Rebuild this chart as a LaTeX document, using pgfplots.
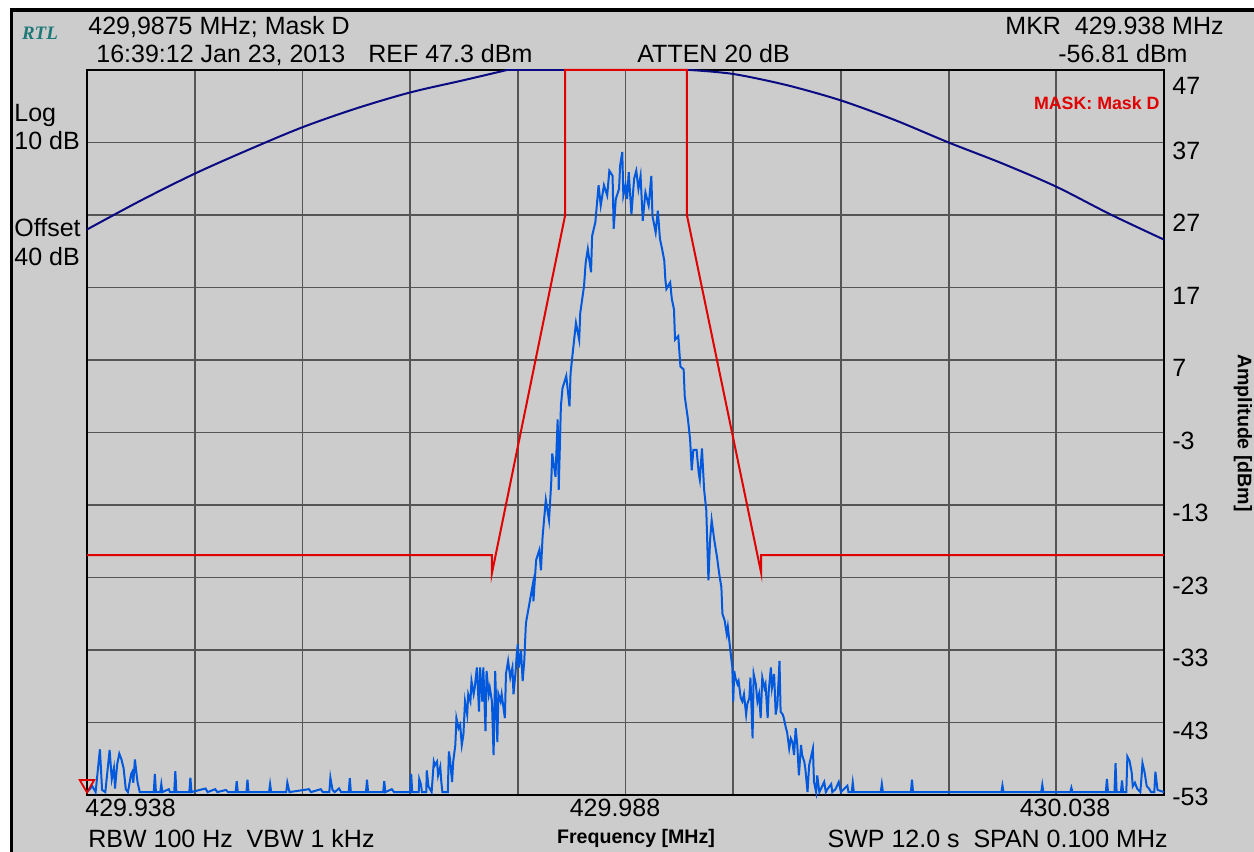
\documentclass[border=0pt]{standalone}
\usepackage{pgfplots}
\pgfplotsset{compat=1.18}
\usepackage{fontspec}
\setmainfont{Liberation Sans}
\newfontfamily\serifbi{Liberation Serif}
\definecolor{bg}{HTML}{CCCCCC}
\definecolor{gridc}{HTML}{555555}
\definecolor{trace}{HTML}{0058DC}
\definecolor{navy}{HTML}{0A0A82}
\definecolor{maskred}{HTML}{E00000}
\definecolor{rtl}{HTML}{1F7878}
\newcommand\fs{\fontsize{12.5}{14}\selectfont}
\newcommand\fb{\fontsize{9.8}{12}\selectfont\bfseries}
\begin{document}
\begin{tikzpicture}
\useasboundingbox (0pt,0pt) rectangle (627pt,426pt);
\fill[white] (0pt,0pt) rectangle (627pt,426pt);
\fill[bg] (6.5pt,0pt) rectangle (627pt,420pt);
\draw[black, line width=1.6pt] (5.8pt,0pt) -- (5.8pt,421pt) -- (627pt,421pt);
\begin{axis}[
  at={(43.5pt,28.5pt)}, anchor=south west,
  scale only axis, width=538.5pt, height=362.5pt,
  xmin=0, xmax=100, ymin=-52.7, ymax=47.3,
  xtick={0,10,...,100},
  ytick={-52.7,-42.7,-32.7,-22.7,-12.7,-2.7,7.3,17.3,27.3,37.3,47.3},
  yticklabels={,-43,-33,-23,-13,-3,7,17,27,37,},
  xticklabel=\empty,
  yticklabel pos=right,
  yticklabel style={anchor=west, inner sep=0pt, xshift=4pt, yshift=-4pt, font=\fs},
  tick style={draw=none}, major tick length=0pt,
  grid=major, major grid style={draw=gridc, line width=0.9pt},
  axis line style={black, line width=1pt},
  clip=false,
]
% navy curve (left part, flat top, right part)
\addplot[navy, line width=1pt, smooth, tension=0.5] coordinates {
(0,25.3)(5,29.3)(10,33.0)(15,36.3)(20,39.4)(25,42.0)(30,44.2)(35,45.9)(39,47.3)};
\addplot[navy, line width=1pt] coordinates {(39,47.3)(56,47.3)};
\addplot[navy, line width=1pt, smooth, tension=0.5] coordinates {
(56,47.3)(60,46.75)(65,45.2)(70,43.1)(75,40.4)(80,37.3)(85,34.4)(90,31.2)(95,27.4)(100,23.9)};
% blue trace
\addplot[trace, line width=1pt] coordinates {
(0,-52.3)(0.5,-51.5)(0.8,-52.3)(1.2,-46.4)(1.4,-52.0)(1.7,-52.3)(2.1,-46.5)(2.3,-50.5)(2.5,-49.0)(2.6,-51.8)
(2.8,-48.5)(3.0,-47.0)(3.2,-47.8)(3.4,-49.0)(3.6,-51.9)(3.8,-52.3)(4.1,-49.8)(4.2,-49.5)(4.3,-51.0)(4.45,-47.8)
(4.6,-49.8)(4.7,-51.0)(4.9,-52.3)(5.5,-52.3)(6.2,-52.3)(6.3,-49.8)(6.4,-52.3)(6.8,-52.3)(6.9,-51.2)(7.0,-52.3)
(7.6,-51.9)(7.7,-52.3)(8.1,-52.3)(8.2,-49.4)(8.3,-52.3)(9.5,-52.3)(9.6,-50.3)(9.7,-52.3)(11.0,-51.8)(11.2,-52.3)
(11.9,-51.9)(12.1,-52.3)(12.9,-52.0)(13.1,-52.3)(13.8,-52.3)(13.9,-50.8)(14.0,-52.3)(14.8,-52.3)(14.9,-50.6)(15.0,-52.3)
(16.9,-52.3)(17.0,-51.2)(17.1,-52.3)(18.5,-52.3)(18.6,-51.0)(18.8,-52.3)(20.6,-51.9)(20.8,-52.3)(21.7,-51.9)(21.9,-52.3)
(22.5,-52.3)(22.6,-50.3)(22.7,-51.2)(22.8,-52.0)(23.0,-52.3)(23.4,-51.8)(23.6,-52.3)(24.3,-52.3)(24.4,-50.4)(24.5,-52.3)
(25.9,-52.3)(26.0,-50.6)(26.1,-52.3)(27.5,-52.3)(27.6,-50.8)(27.7,-52.3)(28.3,-51.9)(28.5,-52.3)(29.5,-52.3)
(30.0,-52.3)(30.1,-49.8)(30.2,-52.3)(30.8,-52.3)(30.85,-50.5)(31.0,-51.2)(31.1,-52.3)(31.5,-52.3)(31.55,-49.3)(31.7,-51.5)
(32.0,-52.3)(32.2,-48.1)(32.3,-48.6)(32.5,-48.1)(32.6,-50.0)(32.8,-48.8)(32.9,-50.9)(33.0,-52.3)(33.5,-52.3)
(33.6,-46.7)(33.7,-47.7)(33.9,-50.9)(34.0,-48.1)(34.2,-45.8)(34.3,-42.1)(34.5,-43.5)(34.65,-43.0)(34.8,-45.8)(34.95,-44.4)
(35.1,-39.8)(35.3,-41.6)(35.4,-38.8)(35.6,-39.8)(35.7,-37.0)(35.9,-38.8)(36.0,-37.9)(36.2,-35.1)(36.4,-41.2)(36.5,-35.1)
(36.7,-39.8)(36.8,-35.1)(37.0,-43.9)(37.1,-35.6)(37.3,-38.8)(37.4,-37.9)(37.6,-39.8)(37.75,-47.2)(37.9,-35.6)(38.1,-45.4)
(38.2,-38.8)(38.4,-39.8)(38.5,-38.8)(38.8,-42.1)(38.9,-36.0)(39.1,-34.2)(39.3,-36.5)(39.5,-35.1)(39.6,-38.8)(39.8,-35.6)
(39.9,-33.3)(40.0,-31.9)(40.1,-35.1)(40.3,-32.8)(40.45,-37.0)(40.6,-34.2)(40.75,-29.1)(40.8,-28.6)(41.1,-26.1)(41.4,-23.6)
(41.45,-26.0)(41.7,-20.3)(42.0,-18.9)(42.15,-21.7)(42.3,-17.1)(42.6,-12.0)(42.9,-14.8)(43.1,-9.7)(43.2,-5.6)(43.5,-8.8)
(43.7,-0.9)(43.8,-10.6)(44.0,0.9)(44.15,3.4)(44.5,5.1)(44.8,0.9)(44.9,5.5)(45.1,8.3)(45.4,12.4)(45.7,10.1)
(45.8,13.8)(46.15,17.5)(46.3,20.7)(46.5,22.6)(46.8,19.4)(46.9,24.4)(47.2,26.3)(47.5,31.4)(47.7,28.6)(48.0,31.4)
(48.3,30.0)(48.5,33.4)(48.8,32.7)(48.9,25.4)(49.1,29.5)(49.4,30.9)(49.5,34.1)(49.7,36.0)(49.8,30.0)(50.0,31.4)
(50.15,29.5)(50.3,33.2)(50.55,27.4)(50.8,32.3)(51.0,33.4)(51.2,30.9)(51.4,32.7)(51.6,26.5)(51.85,30.4)(52.15,28.6)
(52.4,32.7)(52.5,27.2)(52.8,24.9)(53.0,27.9)(53.2,24.0)(53.4,22.6)(53.6,21.0)(53.7,18.4)(53.8,17.1)(54.15,18.0)
(54.3,15.7)(54.5,14.3)(54.6,10.1)(54.9,10.6)(55.1,6.4)(55.4,6.0)(55.5,2.3)(55.8,-0.9)(56.0,-3.7)(56.15,-7.9)
(56.3,-5.1)(56.6,-5.1)(56.8,-8.3)(56.9,-9.2)(57.1,-4.9)(57.3,-10.6)(57.5,-13.4)(57.7,-23.1)(57.85,-17.6)(58.0,-14.8)
(58.25,-17.6)(58.5,-19.9)(58.7,-22.2)(58.9,-24.0)(59.0,-27.7)(59.2,-28.6)(59.4,-30.5)(59.5,-29.5)(59.7,-32.3)(59.85,-34.2)
(59.92,-35.1)(60.0,-39.8)(60.1,-35.6)(60.2,-36.5)(60.4,-37.4)(60.5,-37.0)(60.7,-39.3)(60.85,-39.8)(61.0,-38.8)(61.2,-41.6)
(61.3,-40.2)(61.5,-39.3)(61.6,-36.5)(61.8,-44.9)(61.9,-36.0)(62.1,-37.4)(62.25,-39.8)(62.4,-38.8)(62.55,-42.1)(62.7,-36.5)
(62.9,-37.9)(63.0,-37.4)(63.2,-42.1)(63.3,-38.4)(63.5,-35.1)(63.6,-37.9)(63.8,-36.0)(63.95,-41.6)(64.1,-40.2)(64.3,-34.2)
(64.4,-41.2)(64.6,-41.6)(64.7,-42.1)(64.9,-43.5)(65.0,-44.0)(65.2,-46.3)(65.35,-44.9)(65.5,-45.4)(65.65,-47.2)(65.8,-43.5)
(65.95,-45.8)(66.1,-50.0)(66.3,-45.8)(66.4,-47.2)(66.6,-48.1)(66.7,-49.1)(66.9,-52.3)(67.05,-48.6)(67.4,-46.3)(67.5,-50.9)
(67.7,-52.3)(67.8,-50.0)(68.0,-52.3)(68.45,-50.9)(68.6,-52.3)(68.75,-51.9)(69.1,-51.2)(69.2,-52.3)(69.5,-51.9)(69.8,-50.9)
(70.0,-52.3)(70.6,-51.4)(70.7,-52.3)(71.0,-52.3)(71.1,-51.0)(71.2,-52.3)(73.7,-52.3)(73.8,-51.2)(73.9,-52.3)(76.5,-52.3)
(76.6,-50.6)(76.7,-52.3)(80.0,-52.3)(84.9,-52.3)(85.0,-51.4)(85.1,-52.3)(88.6,-52.3)(88.7,-51.3)(88.8,-52.3)(91.3,-52.3)
(91.4,-51.7)(91.5,-52.3)(94.6,-52.3)(94.7,-50.5)(94.8,-52.3)(95.4,-52.3)(95.5,-48.3)(95.6,-52.3)(96.0,-52.3)(96.1,-50.7)
(96.2,-52.3)(96.5,-52.3)(96.6,-47.4)(96.8,-48.0)(97.0,-49.6)(97.1,-51.5)(97.3,-51.0)(97.5,-51.8)(97.8,-52.3)(97.9,-50.5)
(98.0,-48.3)(98.2,-49.6)(98.4,-51.5)(98.6,-51.8)(98.8,-52.3)(99.1,-52.3)(99.2,-49.5)(99.4,-52.0)(100,-52.3)};
% mask
\addplot[maskred, line width=1pt] coordinates {
(0,-19.6)(37.6,-19.6)(37.6,-22.1)(44.4,27.3)(44.4,47.3)(55.7,47.3)(55.7,27.3)(62.6,-22.1)(62.6,-19.6)(100,-19.6)};
% marker
\addplot[only marks, mark=triangle, mark size=4.2pt, mark options={draw=maskred, line width=0.9pt, rotate=180, fill=none}] coordinates {(0,-51.2)};
\end{axis}
% header texts
\node[anchor=center, inner sep=0pt, text=rtl, font=\serifbi\fontsize{9.5}{11}\selectfont\bfseries\itshape] at (20pt,409.5pt) {RTL};
\node[anchor=base west, inner sep=0pt, font=\fs] at (44pt,408.5pt) {429,9875 MHz; Mask D};
\node[anchor=base west, inner sep=0pt, font=\fs] at (48pt,394.5pt) {16:39:12 Jan 23, 2013};
\node[anchor=base west, inner sep=0pt, font=\fs] at (184pt,394.5pt) {REF 47.3 dBm};
\node[anchor=base west, inner sep=0pt, font=\fs] at (318.5pt,394.5pt) {ATTEN 20 dB};
\node[anchor=base east, inner sep=0pt, font=\fs] at (612pt,408.5pt) {MKR\ \ 429.938 MHz};
\node[anchor=base east, inner sep=0pt, font=\fs] at (594pt,394.5pt) {-56.81 dBm};
% left texts
\node[anchor=base west, inner sep=0pt, font=\fs] at (7pt,365pt) {Log};
\node[anchor=base west, inner sep=0pt, font=\fs] at (7pt,351pt) {10 dB};
\node[anchor=base west, inner sep=0pt, font=\fs] at (7pt,307.5pt) {Offset};
\node[anchor=base west, inner sep=0pt, font=\fs] at (7pt,293pt) {40 dB};
% mask label
\node[anchor=base east, inner sep=0pt, text=maskred, font=\fontsize{8.9}{11}\selectfont\bfseries] at (580pt,371pt) {MASK: Mask D};
% end y labels
\node[anchor=west, inner sep=0pt, font=\fs] at (586pt,383pt) {47};
\node[anchor=west, inner sep=0pt, font=\fs] at (586pt,27.5pt) {-53};
% x labels
\node[anchor=base west, inner sep=0pt, font=\fs] at (42.5pt,17.5pt) {429.938};
\node[anchor=base, inner sep=0pt, font=\fs] at (307.5pt,17.5pt) {429.988};
\node[anchor=base, inner sep=0pt, font=\fs] at (532.5pt,17.5pt) {430.038};
% bottom row
\node[anchor=base west, inner sep=0pt, font=\fs] at (44pt,2pt) {RBW 100 Hz\ \ VBW 1 kHz};
\node[anchor=base, inner sep=0pt, font=\fb] at (318pt,4.5pt) {Frequency [MHz]};
\node[anchor=base east, inner sep=0pt, font=\fs] at (584pt,2pt) {SWP 12.0 s\ \ SPAN 0.100 MHz};
\node[anchor=center, inner sep=0pt, rotate=-90, font=\fb] at (621.5pt,209.5pt) {Amplitude [dBm]};
\end{tikzpicture}
\end{document}
